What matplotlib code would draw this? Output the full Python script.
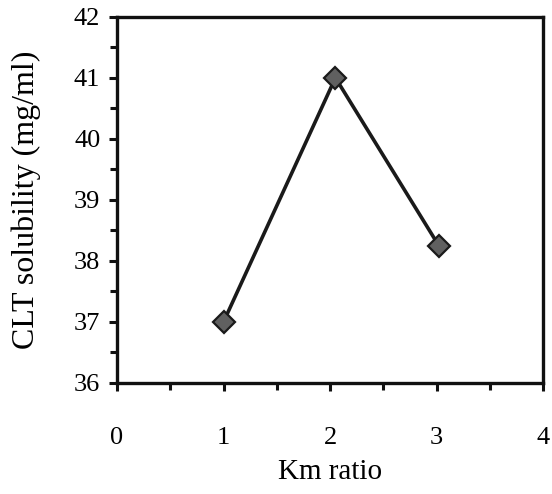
import matplotlib
matplotlib.use("Agg")
import matplotlib.pyplot as plt
from matplotlib.ticker import MultipleLocator

# Data
km_ratio = [1, 2.05, 3.02]
solubility = [37.0, 41.0, 38.25]
x_ticks = [0, 1, 2, 3, 4]
y_ticks = [36, 37, 38, 39, 40, 41, 42]

plt.rcParams['font.family'] = ['Liberation Serif', 'DejaVu Serif']

fig = plt.figure(figsize=(5.52, 4.94), dpi=100)
ax = fig.add_axes([0.212, 0.225, 0.772, 0.741])

ax.plot(km_ratio, solubility, color='#1a1a1a', linewidth=2.6,
        marker='D', markersize=11, markerfacecolor='#606060',
        markeredgecolor='#1a1a1a', markeredgewidth=1.6)

ax.set_xlim(0, 4)
ax.set_ylim(36, 42)
ax.set_xticks(x_ticks)
ax.set_yticks(y_ticks)
ax.xaxis.set_minor_locator(MultipleLocator(0.5))
ax.yaxis.set_minor_locator(MultipleLocator(0.5))

for s in ax.spines.values():
    s.set_linewidth(2.4)
    s.set_color('#111111')

ax.tick_params(axis='both', which='both', direction='out', width=2.2, color='#111111')
ax.tick_params(axis='both', which='major', length=6, labelsize=19)
ax.tick_params(axis='both', which='minor', length=5)
ax.tick_params(axis='x', which='major', pad=26)
ax.tick_params(axis='y', which='major', pad=6)

ax.set_xlabel('Km ratio', fontsize=21, labelpad=7)
ax.set_ylabel('CLT solubility (mg/ml)', fontsize=23, labelpad=24)

fig.savefig('out.png', dpi=100)
